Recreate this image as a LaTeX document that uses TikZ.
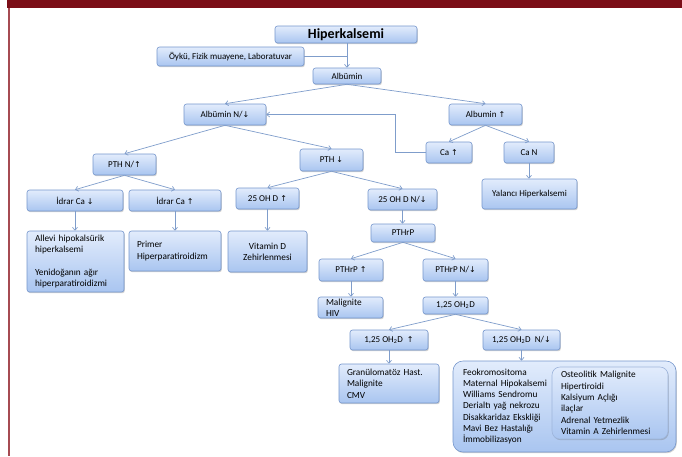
\documentclass[tikz,border=0pt]{standalone}
\usepackage{fontspec}
\setmainfont{Carlito}
\newfontfamily\arrfont{DejaVu Sans}
\usetikzlibrary{arrows.meta,shadows}
\definecolor{barred}{HTML}{7B0E17}
\definecolor{sidered}{HTML}{A64B52}
\definecolor{boxtop}{HTML}{E2ECFC}
\definecolor{boxbot}{HTML}{A9C5F0}
\definecolor{boxline}{HTML}{7596CC}
\definecolor{linec}{HTML}{7F9DCB}
\newcommand\myup{{\arrfont\fontsize{8}{8}\selectfont ↑}}
\newcommand\mydown{{\arrfont\fontsize{8}{8}\selectfont ↓}}
\newcommand\lbl{\fontsize{9}{11}\selectfont}
\newcommand\lst{\fontsize{9.3}{11.3}\selectfont}
\tikzset{
  box/.style={draw=boxline, line width=0.6pt, rounded corners=2.5pt,
    top color=boxtop, bottom color=boxbot,
    drop shadow={shadow xshift=0.8pt, shadow yshift=-1.2pt, opacity=0.3, fill=black!60},
    inner sep=1pt, font=\lbl, align=center},
  listbox/.style={box, font=\lst, align=left, inner xsep=8pt},
  conn/.style={draw=linec, line width=0.7pt, -{Straight Barb[length=2.8pt,width=5pt]}},
  plain/.style={draw=linec, line width=0.7pt},
}
\begin{document}
\begin{tikzpicture}[x=1pt,y=-1pt]
\useasboundingbox (0,0) rectangle (682,456);
\fill[barred] (7.3,0) rectangle (682,7.5);
\fill[sidered] (7.5,7.5) rectangle (10,456);

\node[box, font=\fontsize{14}{16}\selectfont\bfseries, minimum width=142pt, minimum height=17pt] (hiper) at (346,34.5) {Hiperkalsemi};
\node[box, minimum width=147pt, minimum height=19pt] (oyku) at (230.5,56.5) {Öykü, Fizik muayene, Laboratuvar};
\node[box, minimum width=68pt, minimum height=16pt] (alb) at (347,76) {Albümin};
\node[box, minimum width=82pt, minimum height=21pt] (albn) at (225,114.5) {Albümin N/\mydown};
\node[box, minimum width=73pt, minimum height=21pt] (albup) at (485.5,114.5) {Albumin \myup};
\node[box, minimum width=46pt, minimum height=21pt] (caup) at (449,152.5) {Ca \myup};
\node[box, minimum width=50pt, minimum height=21pt] (can) at (529,152.5) {Ca N};
\node[box, minimum width=95pt, minimum height=30pt] (yal) at (529.5,194) {Yalancı Hiperkalsemi};
\node[box, minimum width=63pt, minimum height=21pt] (pthn) at (124.5,164.5) {PTH N/\myup};
\node[box, minimum width=63pt, minimum height=22pt] (pthd) at (331.5,160) {PTH \mydown};
\node[box, minimum width=96pt, minimum height=21pt] (idd) at (75,200.5) {İdrar Ca \mydown};
\node[box, minimum width=92pt, minimum height=21pt] (idu) at (175,200.5) {İdrar Ca \myup};
\node[box, minimum width=63pt, minimum height=21pt] (ohu) at (267.5,198.5) {25 OH D \myup};
\node[box, minimum width=69pt, minimum height=21pt] (ohn) at (402.5,199.5) {25 OH D N/\mydown};
\node[listbox, minimum width=97pt, minimum height=61pt, text width=81pt] (allevi) at (75.5,261.5) {Allevi hipokalsürik\\hiperkalsemi\\[11.3pt]Yenidoğanın ağır\\hiperparatiroidizmi};
\node[listbox, minimum width=92pt, minimum height=40pt, text width=76pt] (primer) at (175,251) {Primer\\Hiperparatiroidizm};
\node[box, font=\lst, minimum width=79pt, minimum height=41pt] (vitd) at (267.5,251.5) {Vitamin D\\Zehirlenmesi};
\node[box, minimum width=64pt, minimum height=18pt] (pthrp) at (403,233) {PTHrP};
\node[box, minimum width=64pt, minimum height=22pt] (pthrpu) at (351,270) {PTHrP \myup};
\node[box, minimum width=65pt, minimum height=22pt] (pthrpn) at (455.5,270) {PTHrP N/\mydown};
\node[listbox, minimum width=65pt, minimum height=21pt, text width=49pt] (malhiv) at (350.5,307.5) {Malignite\\HIV};
\node[box, minimum width=65pt, minimum height=17pt] (ohd) at (455.5,305.5) {1,25 OH\textsubscript{2}D};
\node[box, minimum width=78pt, minimum height=20pt] (ohdu) at (389,340) {1,25 OH\textsubscript{2}D \ \myup};
\node[box, minimum width=77pt, minimum height=20pt] (ohdn) at (521.5,340) {1,25 OH\textsubscript{2}D \ N/\mydown};
\node[listbox, minimum width=100pt, minimum height=39pt, text width=84pt] (gran) at (389,383.5) {Granülomatöz Hast.\\Malignite\\CMV};
\node[listbox, rounded corners=10pt, inner xsep=10pt, minimum width=223pt, minimum height=91pt, text width=203pt] (big) at (564.5,406.5) {Feokromositoma\\Maternal Hipokalsemi\\Williams Sendromu\\Derialtı yağ nekrozu\\Disakkaridaz Ekskliği\\Mavi Bez Hastalığı\\İmmobilizasyon};
\node[listbox, rounded corners=8pt, draw=boxline!70, inner xsep=9pt, minimum width=116pt, minimum height=72pt, text width=98pt] (inner) at (610,403) {Osteolitik Malignite\\Hipertiroidi\\Kalsiyum Açlığı\\ilaçlar\\Adrenal Yetmezlik\\Vitamin A Zehirlenmesi};

% connectors
\draw[conn] (hiper.south -| alb.north) -- (alb.north);
\draw[plain] (oyku.east) -- (oyku.east -| alb.north);
\draw[conn] (alb.south) -- (albn.north);
\draw[conn] (alb.south) -- (albup.north);
\draw[conn] (albup.south) -- (caup.north);
\draw[conn] (albup.south) -- (can.north);
\draw[conn] (can.south) -- (can.south |- yal.north);
\coordinate (fb) at (395,152.5);
\draw[conn] (caup.west) -- (fb) |- (albn.east);
\draw[conn] (albn.south) -- (pthn.north);
\draw[conn] (albn.south) -- (pthd.north);
\draw[conn] (pthn.south) -- (idd.north);
\draw[conn] (pthn.south) -- (idu.north);
\draw[conn] (pthd.south) -- (ohu.north);
\draw[conn] (pthd.south) -- (ohn.north);
\draw[conn] (idd.south) -- (idd.south |- allevi.north);
\draw[conn] (idu.south) -- (idu.south |- primer.north);
\draw[conn] (ohu.south) -- (ohu.south |- vitd.north);
\draw[conn] (ohn.south) -- (ohn.south |- pthrp.north);
\draw[conn] (pthrp.south) -- (pthrpu.north);
\draw[conn] (pthrp.south) -- (pthrpn.north);
\draw[conn] (pthrpu.south) -- (pthrpu.south |- malhiv.north);
\draw[conn] (pthrpn.south) -- (pthrpn.south |- ohd.north);
\draw[conn] (ohd.south) -- (ohdu.north);
\draw[conn] (ohd.south) -- (ohdn.north);
\draw[conn] (ohdu.south) -- (ohdu.south |- gran.north);
\draw[conn] (ohdn.south) -- (ohdn.south |- big.north);
\end{tikzpicture}
\end{document}
